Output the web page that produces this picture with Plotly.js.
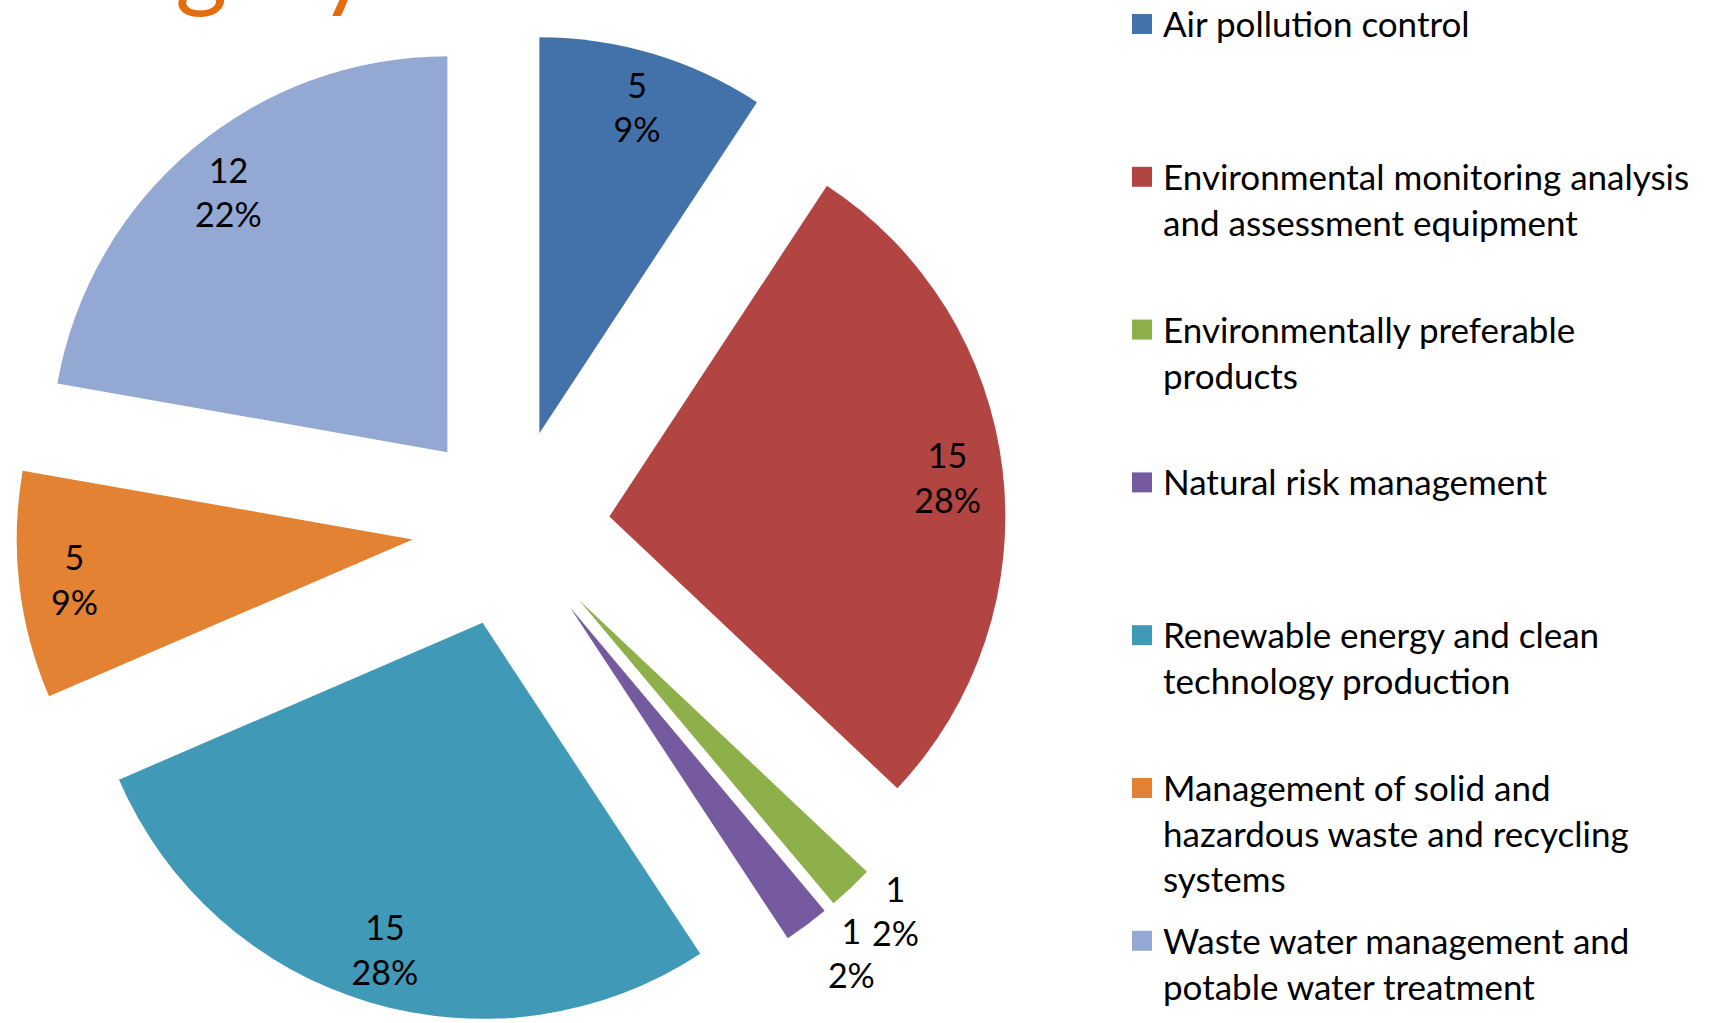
<!DOCTYPE html>
<html>
<head>
<meta charset="utf-8">
<script src="https://cdn.plot.ly/plotly-3.0.1.min.js"></script>
<style>html,body{margin:0;padding:0;background:#fff;overflow:hidden}</style>
</head>
<body>
<div id="chart" style="width:1718px;height:1023px"></div>
<script>
// ---- data ----
const categories = [
  'Air pollution control',
  'Environmental monitoring analysis and assessment equipment',
  'Environmentally preferable products',
  'Natural risk management',
  'Renewable energy and clean technology production',
  'Management of solid and hazardous waste and recycling systems',
  'Waste water management and potable water treatment'
];
const counts = [5, 15, 1, 1, 15, 5, 12];
const legendText = [
  'Air pollution control',
  'Environmental monitoring analysis<br>and assessment equipment',
  'Environmentally preferable<br>products',
  'Natural risk management',
  'Renewable energy and clean<br>technology production',
  'Management of solid and<br>hazardous waste and recycling<br>systems',
  'Waste water management and<br>potable water treatment'
];
const sliceColors = ['#4372AA', '#B24541', '#8DB04B', '#765AA0', '#4099B6', '#E38232', '#93A9D4'];
// labels drawn by the ring overlay (main) and by the fill trace (so the two small
// outside labels are not pushed apart by the same trace)
const ringLabelPos = ['inside', 'inside', 'outside', 'none', 'inside', 'inside', 'inside'];
const fillLabelPos = ['none', 'none', 'none', 'outside', 'none', 'none', 'none'];
const titleFragment = 'Category';

// ---- layout helpers ----
const W = 1718, H = 1023;
const px = x => x / W;
const py = y => 1 - y / H;
const FONT = 'Lato, "Open Sans", sans-serif';
const labelFont = {family: FONT, size: 34, color: '#000'};

const pieBase = {
  type: 'pie',
  values: counts,
  labels: categories,
  sort: false,
  direction: 'clockwise',
  rotation: 0,
  pull: 0.25,
  domain: {x: [px(11), px(1011)], y: [0, 990 / H]},
  showlegend: false,
  texttemplate: '%{value}<br>%{percent:.0%}',
  insidetextorientation: 'horizontal',
  textfont: labelFont,
  outsidetextfont: labelFont
};

const fillTrace = Object.assign({}, pieBase, {
  marker: {colors: sliceColors, line: {width: 0}},
  textposition: fillLabelPos,
  hoverinfo: 'label+value+percent'
});

const textTrace = Object.assign({}, pieBase, {
  hole: 0.72,
  marker: {colors: counts.map(() => 'rgba(0,0,0,0)'), line: {width: 0}},
  textposition: ringLabelPos,
  hoverinfo: 'skip'
});

const firstLineCenter = 24, itemStep = 152.8;
const annotations = legendText.map((t, i) => ({
  xref: 'paper', yref: 'paper',
  x: px(1161), y: py(firstLineCenter + i * itemStep - 24),
  xanchor: 'left', yanchor: 'top', align: 'left',
  text: t, showarrow: false,
  font: {family: FONT, size: 35, color: '#000'}
}));
annotations.push({
  xref: 'paper', yref: 'paper',
  x: px(-31), y: py(22), xanchor: 'left', yanchor: 'bottom',
  text: titleFragment, showarrow: false,
  font: {family: FONT, size: 100, color: '#E46C0A'}
});

const shapes = sliceColors.map((c, i) => {
  const cy = firstLineCenter + i * itemStep;
  return {
    type: 'rect', xref: 'paper', yref: 'paper',
    x0: px(1132), x1: px(1152), y0: py(cy + 10), y1: py(cy - 10),
    fillcolor: c, line: {width: 0}
  };
});

const layout = {
  width: W, height: H,
  margin: {l: 0, r: 0, t: 0, b: 0},
  paper_bgcolor: '#fff',
  plot_bgcolor: '#fff',
  showlegend: false,
  annotations: annotations,
  shapes: shapes,
  font: {family: FONT}
};

Plotly.newPlot('chart', [fillTrace, textTrace], layout, {displayModeBar: false, staticPlot: true});
</script>
</body>
</html>
